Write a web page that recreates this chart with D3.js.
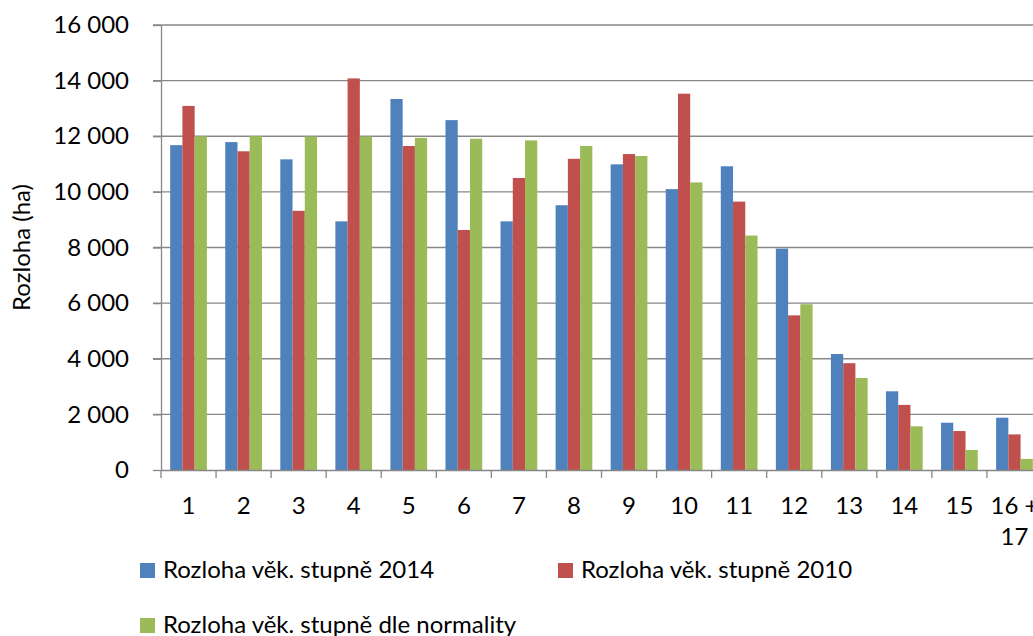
<!DOCTYPE html>
<html>
<head>
<meta charset="utf-8">
<title>Rozloha věkových stupňů</title>
<script src="https://cdn.jsdelivr.net/npm/d3@7"></script>
<style>
    html, body { margin: 0; padding: 0; background: #fff; }
    svg { display: block; font-family: Lato, "Open Sans", sans-serif; }
    .grid line { stroke: #878787; stroke-width: 1.3; }
    .axis path, .axis line { stroke: #878787; stroke-width: 1.3; }
    .axis text { fill: #000; font-size: 24px; font-family: Lato, sans-serif; }
</style>
</head>
<body>
<script>
// kategorie (věkové stupně)
var categories = ["1","2","3","4","5","6","7","8","9","10","11","12","13","14","15","16 + 17"];
var seriesNames = ["Rozloha věk. stupně 2014", "Rozloha věk. stupně 2010", "Rozloha věk. stupně dle normality"];
var vals2014 = [11680, 11790, 11170, 8940, 13340, 12580, 8940, 9520, 10990, 10100, 10920, 7960, 4170, 2830, 1700, 1880];
var vals2010 = [13090, 11460, 9320, 14080, 11650, 8630, 10500, 11190, 11360, 13530, 9650, 5560, 3840, 2340, 1400, 1280];
var valsNorm = [12000, 12000, 11990, 11990, 11940, 11910, 11850, 11650, 11290, 10340, 8430, 5960, 3310, 1570, 720, 400];
var yTicks = [0, 2000, 4000, 6000, 8000, 10000, 12000, 14000, 16000];
var colors = ["#4F81BD", "#C0504D", "#9BBB59"];

var W = 1033, H = 636;
var mLeft = 161, mTop = 25, plotW = 881, plotH = 445;

var svg = d3.select("body").append("svg").attr("width", W).attr("height", H);

var x0 = d3.scaleBand().domain(categories).range([0, plotW]).paddingInner(1/3).paddingOuter(1/6);
var x1 = d3.scaleBand().domain([0,1,2]).range([0, x0.bandwidth()]);
var xTick = d3.scaleBand().domain(categories).range([0, plotW]);
var y = d3.scaleLinear().domain([0, 16000]).range([plotH, 0]);

var g = svg.append("g").attr("transform", "translate(" + mLeft + "," + mTop + ")");

// mřížka
g.append("g").attr("class", "grid")
    .selectAll("line").data(yTicks.slice(1)).enter().append("line")
    .attr("x1", -8).attr("x2", plotW)
    .attr("y1", function (d) { return y(d); })
    .attr("y2", function (d) { return y(d); });

// sloupce
var rows = categories.map(function (c, i) { return [vals2014[i], vals2010[i], valsNorm[i]]; });
var groups = g.selectAll("g.cat").data(rows).enter().append("g")
    .attr("class", "cat")
    .attr("transform", function (d, i) { return "translate(" + x0(categories[i]) + ",0)"; });
groups.selectAll("rect").data(function (d) { return d; }).enter().append("rect")
    .attr("x", function (d, j) { return x1(j); })
    .attr("width", x1.bandwidth())
    .attr("y", function (d) { return y(d); })
    .attr("height", function (d) { return plotH - y(d); })
    .attr("fill", function (d, j) { return colors[j]; });

// osa y
var fmt = function (d) { return d3.format(",")(d).replace(/,/g, " "); };
var yAxis = g.append("g").attr("class", "axis")
    .call(d3.axisLeft(y).tickValues(yTicks).tickFormat(fmt).tickSize(8).tickSizeOuter(0));
yAxis.selectAll("text").attr("x", -32);

// osa x
var xAxis = g.append("g").attr("class", "axis")
    .attr("transform", "translate(0," + plotH + ")")
    .call(d3.axisBottom(xTick).tickValues([]).tickSizeOuter(0));
xAxis.selectAll(".sep").data(categories.concat(["end"])).enter().append("line")
    .attr("class", "sep")
    .attr("x1", function (d, i) { return i * xTick.step(); })
    .attr("x2", function (d, i) { return i * xTick.step(); })
    .attr("y1", 0).attr("y2", 8);
var lab = xAxis.selectAll(".lab").data(categories).enter().append("text")
    .attr("class", "lab")
    .attr("text-anchor", "middle")
    .attr("x", function (d) { return xTick(d) + xTick.bandwidth() / 2; })
    .attr("y", 44);
lab.each(function (d) {
    var parts = d.indexOf("+") > 0 ? ["16 +", "17"] : [d];
    var t = d3.select(this);
    parts.forEach(function (p, k) {
        t.append("tspan").attr("x", xTick(d) + xTick.bandwidth() / 2).attr("dy", k ? 31 : 0).text(p);
    });
});

// popisek osy y
svg.append("text")
    .attr("transform", "translate(30," + (mTop + plotH / 2) + ") rotate(-90)")
    .attr("text-anchor", "middle")
    .style("font-size", "24px")
    .text("Rozloha (ha)");

// legenda
var legPos = [[140, 570], [558, 570], [140, 625]];
var leg = svg.selectAll(".leg").data(seriesNames).enter().append("g")
    .attr("transform", function (d, i) { return "translate(" + legPos[i][0] + "," + legPos[i][1] + ")"; });
leg.append("rect").attr("x", 0).attr("y", -7).attr("width", 15).attr("height", 15)
    .attr("fill", function (d, i) { return colors[i]; });
leg.append("text").attr("x", 23).attr("y", 8).style("font-size", "24px").text(function (d) { return d; });
</script>
</body>
</html>
